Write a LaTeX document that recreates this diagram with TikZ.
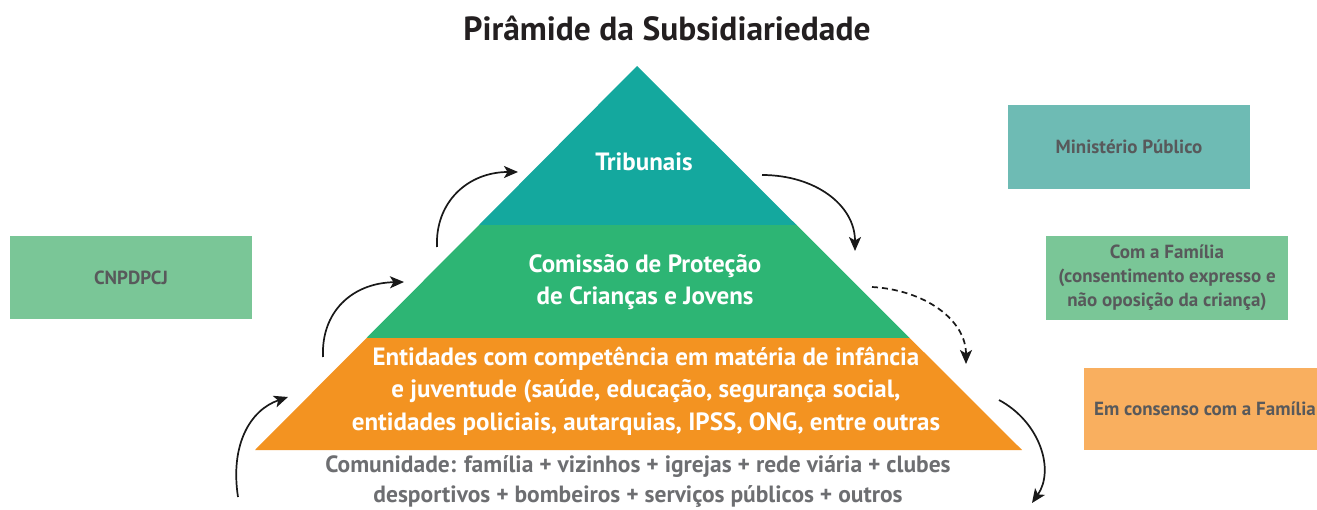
\documentclass[tikz,border=0pt]{standalone}
\usepackage{fontspec}
\setmainfont{PT Sans}
\usetikzlibrary{arrows.meta}
\definecolor{cTeal}{HTML}{14A89E}
\definecolor{cGreen}{HTML}{2DB574}
\definecolor{cOrange}{HTML}{F39321}
\definecolor{bTeal}{HTML}{6EBBB4}
\definecolor{bGreen}{HTML}{7AC697}
\definecolor{bOrange}{HTML}{F9AF5F}
\definecolor{tGray}{HTML}{58595B}
\definecolor{cGray}{HTML}{6D6E71}
\definecolor{tTitle}{HTML}{231F20}
\begin{document}
\begin{tikzpicture}[x=1pt,y=-1pt,
  lvltext/.style={text=white,font=\bfseries\fontsize{25}{32.5}\selectfont,align=center,inner sep=0pt},
  sidebox/.style={fill=#1,text=tGray,font=\bfseries\fontsize{19}{24}\selectfont,align=center,inner sep=0pt},
  arr/.style={-{Stealth[length=14pt,width=12pt,inset=3.5pt]},line width=1.7pt,draw=black!90},
  darr/.style={arr,dash pattern=on 6pt off 4pt}]
\useasboundingbox (0,0) rectangle (1317,510);
% pyramid
\coordinate (A) at (637,66);
\coordinate (L) at (255,450);
\coordinate (R) at (1022,450);
\coordinate (L1) at (479,225);
\coordinate (R1) at (796.5,225);
\coordinate (L2) at (366.5,338);
\coordinate (R2) at (909.7,338);
\fill[cOrange] (L2) -- (R2) -- (R) -- (L) -- cycle;
\fill[cGreen] (L1) -- (R1) -- (R2) -- (L2) -- cycle;
\fill[cTeal] (A) -- (R1) -- (L1) -- cycle;
% title
\node[font=\bfseries\fontsize{33.5}{38}\selectfont,text=tTitle,inner sep=0pt] (title) at (667,28) {Pirâmide da Subsidiariedade};
% level texts
\node[lvltext] (trib) at (644,162) {Tribunais};
\node[lvltext] (cpcj) at (645,282) {Comissão de Proteção\\de Crianças e Jovens};
\node[lvltext] (ent) at (646,391) {Entidades com competência em matéria de infância\\e juventude (saúde, educação, segurança social,\\entidades policiais, autarquias, IPSS, ONG, entre outras};
\node[text=cGray,font=\bfseries\fontsize{23.5}{30}\selectfont,align=center,inner sep=0pt] (com) at (638,482) {Comunidade: família + vizinhos + igrejas + rede viária + clubes\\desportivos + bombeiros + serviços públicos + outros};
% side boxes
\node[sidebox=bTeal,minimum width=242pt,minimum height=84pt] (mp) at (1129,147) {Ministério Público};
\node[sidebox=bGreen,minimum width=242pt,minimum height=84pt] (fam) at (1167,278) {Com a Família\\(consentimento expresso e\\não oposição da criança)};
\node[sidebox=bOrange,minimum width=242pt,minimum height=82pt] (cons) at (1205,409) {Em consenso com a Família};
\node[sidebox=bGreen,minimum width=242pt,minimum height=83pt] (cnp) at (131,277.5) {CNPDPCJ};
% arrows
\coordinate (a1s) at (238,497); \coordinate (a1e) at (288,397);
\coordinate (a2s) at (323,357); \coordinate (a2e) at (404,282);
\coordinate (a3s) at (437,247); \coordinate (a3e) at (518,172);
\coordinate (b1s) at (762,175); \coordinate (b1e) at (855,251);
\coordinate (b2s) at (872,287); \coordinate (b2e) at (966,364);
\coordinate (b3s) at (999,400); \coordinate (b3e) at (1032,503);
\draw[arr] (a1s) .. controls (230,445) and (250,410) .. (a1e);
\draw[arr] (a2s) .. controls (321,312) and (352,283) .. (a2e);
\draw[arr] (a3s) .. controls (435,202) and (468,172) .. (a3e);
\draw[arr] (b1s) .. controls (815,175) and (855,205) .. (b1e);
\draw[darr] (b2s) .. controls (925,290) and (966,320) .. (b2e);
\draw[arr] (b3s) .. controls (1040,422) and (1055,470) .. (b3e);
\end{tikzpicture}
\end{document}
